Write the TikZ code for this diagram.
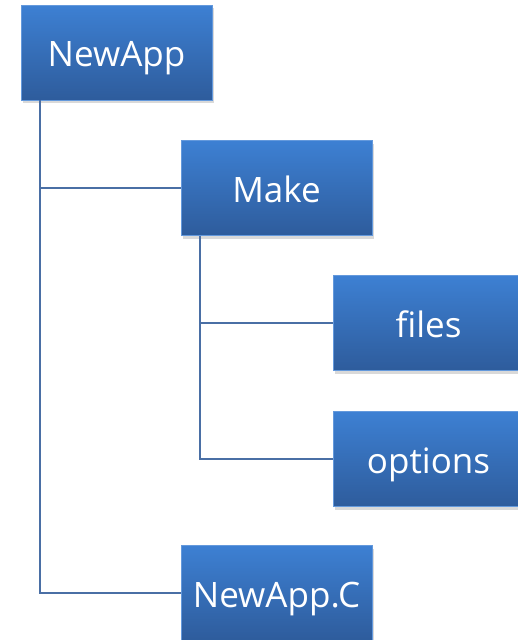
\documentclass[tikz,border=0pt]{standalone}
\usepackage{fontspec}
\setmainfont{Open Sans}
\usetikzlibrary{shadows}
\definecolor{boxtop}{HTML}{3D80D3}
\definecolor{boxbot}{HTML}{2E5C9C}
\definecolor{linec}{HTML}{4A6FA5}
\tikzset{
  x=1pt,y=1pt,
  box/.style={rectangle, minimum width=191pt, minimum height=95pt, inner sep=0pt,
    text height=28pt, text depth=0pt,
    top color=boxtop, bottom color=boxbot, draw=boxtop!80!white, line width=0.5pt,
    text=white, font=\fontsize{35}{38}\selectfont,
    drop shadow={opacity=0.3, shadow xshift=2pt, shadow yshift=-3pt}},
  conn/.style={draw=linec, line width=2pt}
}
\begin{document}
\begin{tikzpicture}
\useasboundingbox (0,0) rectangle (518,-640);
\node[box] (newapp) at (116.5,-52.5) {NewApp};
\node[box] (make) at (276.5,-188) {Make};
\node[box] (files) at (428.5,-323) {files};
\node[box] (options) at (428.5,-459) {options};
\node[box] (newappc) at (276.5,-593) {NewApp.C};
\draw[conn] ([xshift=19pt]newapp.south west) |- (make.west);
\draw[conn] ([xshift=19pt]newapp.south west) |- (newappc.west);
\draw[conn] ([xshift=19pt]make.south west) |- (files.west);
\draw[conn] ([xshift=19pt]make.south west) |- (options.west);
\end{tikzpicture}
\end{document}
